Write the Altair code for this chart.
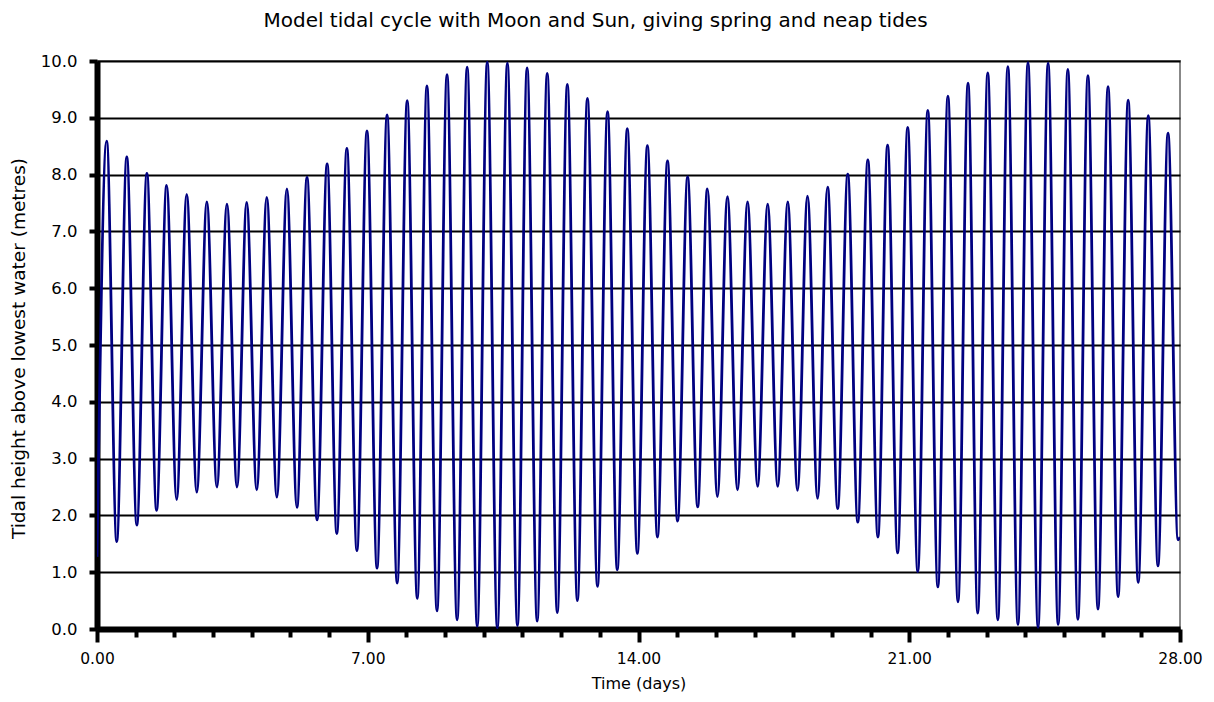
import altair as alt
import pandas as pd

chart_title = "Model tidal cycle with Moon and Sun, giving spring and neap tides"
x_title = "Time (days)"
y_title = "Tidal height above lowest water (metres)"

# High waters (days, metres)
high_times = [0.25, 0.77, 1.29, 1.80, 2.32, 2.84, 3.36, 3.87, 4.39, 4.91,
              5.43, 5.95, 6.46, 6.98, 7.50, 8.02, 8.53, 9.05, 9.57, 10.09,
              10.61, 11.12, 11.64, 12.16, 12.68, 13.20, 13.71, 14.23, 14.75, 15.27,
              15.78, 16.30, 16.82, 17.34, 17.86, 18.37, 18.89, 19.41, 19.93, 20.44,
              20.96, 21.48, 22.00, 22.52, 23.03, 23.55, 24.07, 24.59, 25.10, 25.62,
              26.14, 26.66, 27.18, 27.69]
high_heights = [8.59, 8.31, 8.02, 7.81, 7.65, 7.52, 7.48, 7.51, 7.60, 7.75,
                7.95, 8.19, 8.46, 8.77, 9.05, 9.30, 9.56, 9.76, 9.89, 9.98,
                9.96, 9.88, 9.78, 9.59, 9.34, 9.11, 8.81, 8.51, 8.24, 7.96,
                7.75, 7.61, 7.52, 7.48, 7.52, 7.62, 7.78, 8.01, 8.26, 8.52,
                8.83, 9.13, 9.38, 9.61, 9.79, 9.90, 9.97, 9.96, 9.85, 9.74,
                9.55, 9.31, 9.04, 8.73]

# Low waters (days, metres)
low_times = [0.00, 0.51, 1.03, 1.54, 2.06, 2.58, 3.10, 3.62, 4.13, 4.65, 5.17,
             5.69, 6.20, 6.72, 7.24, 7.76, 8.28, 8.79, 9.31, 9.83, 10.35,
             10.87, 11.38, 11.90, 12.42, 12.94, 13.45, 13.97, 14.49, 15.01, 15.53,
             16.04, 16.56, 17.08, 17.60, 18.11, 18.63, 19.15, 19.67, 20.19, 20.70,
             21.22, 21.74, 22.26, 22.77, 23.29, 23.81, 24.33, 24.85, 25.36, 25.88,
             26.40, 26.92, 27.43, 27.95, 28.00]
low_heights = [1.27, 1.54, 1.83, 2.09, 2.28, 2.41, 2.50, 2.50, 2.45, 2.32, 2.14,
               1.92, 1.68, 1.38, 1.07, 0.81, 0.54, 0.32, 0.16, 0.05, 0.02,
               0.06, 0.14, 0.29, 0.50, 0.75, 1.04, 1.33, 1.62, 1.90, 2.15,
               2.33, 2.45, 2.51, 2.51, 2.44, 2.30, 2.12, 1.88, 1.62, 1.34,
               1.01, 0.74, 0.48, 0.28, 0.16, 0.08, 0.03, 0.08, 0.17, 0.35,
               0.57, 0.82, 1.11, 1.57, 1.62]

df = pd.DataFrame({
    "t": high_times + low_times,
    "h": high_heights + low_heights,
}).sort_values("t").reset_index(drop=True)

FONT = "DejaVu Sans"

x_axis = alt.Axis(
    title=x_title,
    values=list(range(0, 29)),
    labelExpr="datum.value % 7 === 0 ? format(datum.value, '.2f') : ''",
    tickSize={"condition": {"test": "datum.value % 7 === 0", "value": 13}, "value": 8},
    tickWidth=4,
    tickColor="black",
    domainColor="black",
    domainWidth=6,
    grid=False,
    labelFont=FONT,
    labelFontSize=15.5,
    labelColor="black",
    labelPadding=9,
    labelFlush=False,
    titleFont=FONT,
    titleFontSize=16,
    titleFontWeight="normal",
    titleColor="black",
    titleBaseline="middle",
    titleY=54,
)

y_axis = alt.Axis(
    title=y_title,
    values=list(range(0, 11)),
    format=".1f",
    tickSize=8,
    tickWidth=4,
    tickColor="black",
    domainColor="black",
    domainWidth=6,
    grid=True,
    gridColor="black",
    gridWidth=2,
    gridOpacity=1,
    labelFont=FONT,
    labelFontSize=16.5,
    labelColor="black",
    labelPadding=12,
    labelFlush=False,
    titleFont=FONT,
    titleFontSize=18.5,
    titleFontWeight="normal",
    titleColor="black",
    titleAngle=-90,
    titleBaseline="middle",
    titleAlign="center",
    titleX=-79,
    titleY=287,
)

chart = alt.Chart(df).mark_line(
    color="#000080", strokeWidth=2.8, interpolate="monotone", clip=True
).encode(
    x=alt.X("t:Q", scale=alt.Scale(domain=[0, 28], nice=False, zero=False), axis=x_axis),
    y=alt.Y("h:Q", scale=alt.Scale(domain=[0, 10], nice=False), axis=y_axis),
).properties(
    width=1083,
    height=568,
    autosize="none",
    padding={"left": 89, "top": 53, "right": 26, "bottom": 65},
    title=alt.TitleParams(
        chart_title, font=FONT, fontSize=20, fontWeight="normal", color="black",
        anchor="middle", dx=-43, offset=22,
    ),
).configure_view(
    stroke="#888888", strokeWidth=2
)

chart.save("out.html", embed_options={"renderer": "svg", "actions": False})
